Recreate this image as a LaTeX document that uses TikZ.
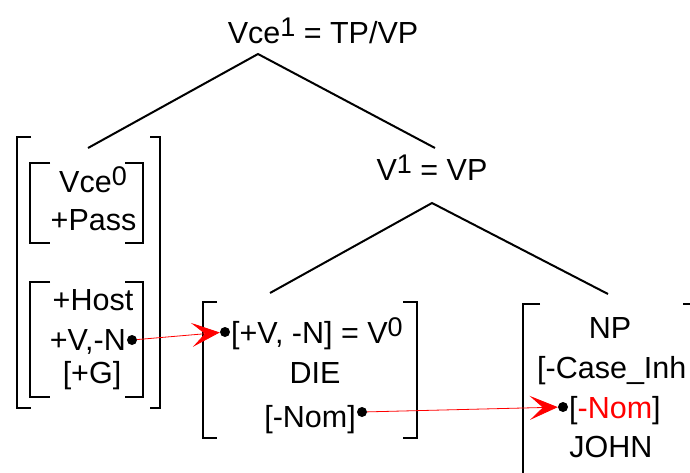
\documentclass[tikz,border=0pt]{standalone}
\usepackage{fontspec}
\setmainfont{Liberation Sans}
\usetikzlibrary{arrows.meta}
\newcommand{\supx}[1]{\raisebox{7pt}{\fontsize{27}{27}\selectfont #1}}
\begin{document}
\begin{tikzpicture}[x=1pt,y=-1pt,
  lbl/.style={inner sep=0pt, font=\fontsize{30.5}{36}\selectfont},
  brk/.style={line width=2pt, line cap=butt, line join=miter},
  edge/.style={line width=2pt},
  dotn/.style={circle, fill=black, inner sep=0pt, minimum size=10pt},
  link/.style={red, line width=0.8pt, -{Stealth[length=28pt,width=24pt,inset=13pt]}, shorten >=0pt}]
\useasboundingbox (0,0) rectangle (690,472);
% tree labels
\node[lbl, anchor=base] (top) at (323,43) {Vce\supx{1} = TP/VP};
\node[lbl, anchor=base] (vp) at (432,180) {V\supx{1} = VP};
% tree edges
\coordinate (apex1) at (258,54);
\coordinate (l1) at (88,148);
\coordinate (r1) at (435,148);
\coordinate (apex2) at (432,203);
\coordinate (l2) at (270,293);
\coordinate (r2) at (608,294);
\draw[edge] (l1) -- (apex1) -- (r1);
\draw[edge] (l2) -- (apex2) -- (r2);
% left big bracket
\draw[brk] (31,137) -- (17,137) -- (17,408) -- (31,408);
\draw[brk] (150,137) -- (160,137) -- (160,408) -- (150,408);
% inner bracket 1
\draw[brk] (50,163) -- (30,163) -- (30,243) -- (50,243);
\draw[brk] (125,163) -- (143,163) -- (143,243) -- (125,243);
\node[lbl, anchor=base] (vce0) at (93,192) {Vce\supx{0}};
\node[lbl, anchor=base] (pass) at (93.5,230) {+Pass};
% inner bracket 2
\draw[brk] (50,282) -- (30,282) -- (30,397) -- (50,397);
\draw[brk] (125,282) -- (143,282) -- (143,397) -- (125,397);
\node[lbl, anchor=base] (host) at (93,310) {+Host};
\node[lbl, anchor=base east] (vn) at (126,350) {+V,-N};
\node[lbl, anchor=base] (g) at (92,383) {[+G]};
\node[dotn] (d1) at (132,340) {};
% middle bracket
\draw[brk] (217,302) -- (203,302) -- (203,438) -- (217,438);
\draw[brk] (403,302) -- (417,302) -- (417,438) -- (403,438);
\node[lbl, anchor=base west] (v0) at (231,343) {[+V, -N] = V\supx{0}};
\node[lbl, anchor=base] (die) at (315,383) {DIE};
\node[lbl, anchor=base east] (nom1) at (356,427) {[-Nom]};
\node[dotn] (d2) at (225,332) {};
\node[dotn] (d3) at (362,412) {};
% NP bracket
\draw[brk] (540,304) -- (523,304) -- (523,480);
\draw[brk] (683,304) -- (697,304) -- (697,480);
\node[lbl, anchor=base] (np) at (610,338) {NP};
\node[lbl, anchor=base west] (case) at (537,378) {[-Case\_Inh};
\node[lbl, anchor=base west] (nom2) at (569,418) {[\textcolor{red}{-Nom}]};
\node[lbl, anchor=base] (john) at (611,457) {JOHN};
\node[dotn] (d4) at (563,407) {};
% links
\draw[link] (d1) -- (d2);
\draw[link] (d3) -- (d4);
\end{tikzpicture}
\end{document}
